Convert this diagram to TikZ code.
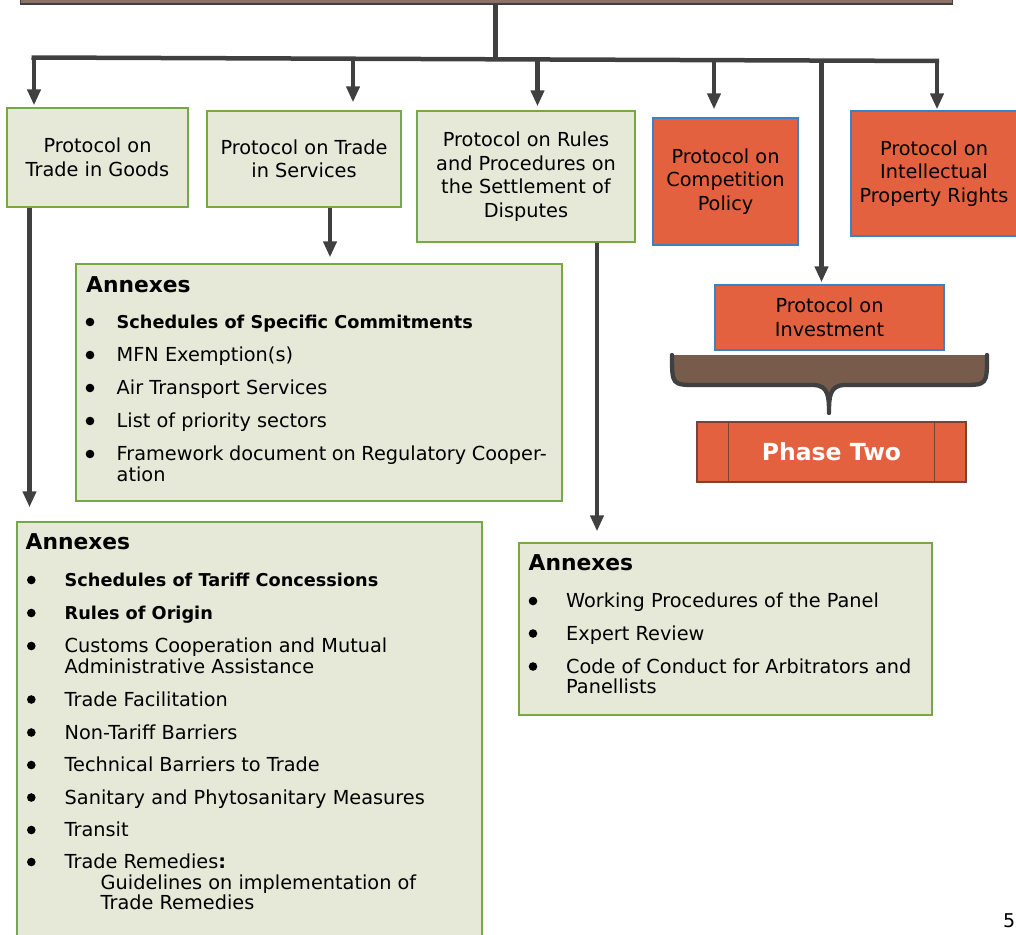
\documentclass[tikz,border=0pt]{standalone}
\usepackage{fontspec}
\setmainfont{DejaVu Sans}
\usetikzlibrary{arrows.meta}
\definecolor{gfill}{HTML}{E6E9D7}
\definecolor{gline}{HTML}{77A846}
\definecolor{ofill}{HTML}{E3613E}
\definecolor{oline}{HTML}{3B82C4}
\definecolor{arrc}{HTML}{404040}
\definecolor{brownf}{HTML}{775B4B}
\definecolor{topf}{HTML}{8C7264}
\definecolor{pline}{HTML}{7A4430}
\newcommand\mlines[1]{\parbox[t]{430pt}{\raggedright #1}}
\begin{document}
\begin{tikzpicture}[x=1pt,y=-1pt,
 gbox/.style={draw=gline,line width=1.3pt,fill=gfill,inner sep=0pt},
 obox/.style={draw=oline,line width=1.3pt,fill=ofill,inner sep=0pt},
 lbl/.style={font=\fontsize{19.3}{23.5}\selectfont,align=center},
 arr/.style={draw=arrc,line width=4.3pt,-{Triangle[length=16pt,width=13pt]}},
 ln/.style={draw=arrc,line width=4.5pt},
 head/.style={anchor=base west,inner sep=0pt,font=\bfseries\fontsize{21.8}{24}\selectfont},
 item/.style={anchor=base west,inner sep=0pt,font=\fontsize{19.3}{20.5}\selectfont},
 bitem/.style={anchor=base west,inner sep=0pt,font=\bfseries\fontsize{17.7}{20.5}\selectfont},
 dot/.style={fill=black},
]
\useasboundingbox (0,0) rectangle (1016,934);

% top bar
\node[draw=arrc,fill=topf,line width=1.5pt,minimum width=932pt,minimum height=20pt,inner sep=0pt] (top) at (486.5,-6) {};

% protocol boxes
\node[gbox,lbl,minimum width=181pt,minimum height=99pt] (goods) at (97.5,157.5) {Protocol on\\Trade in Goods};
\node[gbox,lbl,minimum width=194pt,minimum height=96pt] (serv) at (304,159) {Protocol on Trade\\in Services};
\node[gbox,lbl,minimum width=218pt,minimum height=131pt] (disp) at (526,176.5) {Protocol on Rules\\and Procedures on\\the Settlement of\\Disputes};
\node[obox,lbl,minimum width=145pt,minimum height=127pt] (comp) at (725.5,181.5) {Protocol on\\Competition\\Policy};
\node[obox,lbl,minimum width=166pt,minimum height=125pt] (ipr) at (934,173.5) {Protocol on\\Intellectual\\Property Rights};
\node[obox,lbl,minimum width=229pt,minimum height=65pt] (inv) at (829.5,317.5) {Protocol on\\Investment};

% phase two
\node[draw=pline,line width=1.2pt,fill=ofill,inner sep=0pt,minimum width=269pt,minimum height=60pt,text=white,font=\bfseries\fontsize{23.5}{26}\selectfont] (phase) at (831.5,452) {Phase Two};
\draw[pline,line width=1.2pt] ([xshift=32pt]phase.north west) -- ([xshift=32pt]phase.south west);
\draw[pline,line width=1.2pt] ([xshift=-32pt]phase.north east) -- ([xshift=-32pt]phase.south east);

% brace
\fill[brownf] (672,355) -- (987,355) .. controls (987,385) .. (962,385) -- (845,385) .. controls (829,385) and (829,398) .. (829,413) .. controls (829,398) and (829,385) .. (813,385) -- (697,385) .. controls (672,385) .. (672,355) -- cycle;
\draw[arrc,line width=4.3pt,line cap=round,line join=round] (672,355) .. controls (672,385) .. (697,385) -- (813,385) .. controls (829,385) and (829,398) .. (829,413) .. controls (829,398) and (829,385) .. (845,385) -- (962,385) .. controls (987,385) .. (987,355);

% annex boxes
\node[gbox,minimum width=486pt,minimum height=237pt] (sa) at (319,382.5) {};
\node[gbox,minimum width=465pt,minimum height=423pt] (ga) at (249.5,733.5) {};
\node[gbox,minimum width=413pt,minimum height=172pt] (da) at (725.5,629) {};

% connectors
\coordinate (j) at (495.5,58);
\draw[ln] (top.south -| j) -- (j);
\coordinate (bl) at (31.5,57.5);
\coordinate (br) at (939.2,61);
\draw[ln] (bl) -- (br);
\coordinate (a1) at (34,56);
\coordinate (a2) at (353,57);
\coordinate (a3) at (537.5,58);
\coordinate (a4) at (714,58.5);
\coordinate (a5) at (821.5,59);
\coordinate (a6) at (937,59);
\draw[arr,shorten >=2pt] (a1) -- (a1 |- goods.north);
\draw[arr,shorten >=8pt] (a2) -- (a2 |- serv.north);
\draw[arr,shorten >=4pt] (a3) -- (a3 |- disp.north);
\draw[arr,shorten >=8pt] (a4) -- (a4 |- comp.north);
\draw[arr,shorten >=1pt] (a6) -- (a6 |- ipr.north);
\draw[arr,shorten >=2pt] (a5) -- (a5 |- inv.north);
\coordinate (g0) at (29.5,0);
\coordinate (s0) at (330,0);
\coordinate (d0) at (597,0);
\draw[arr,shorten >=14pt] (goods.south -| g0) -- (ga.north -| g0);
\draw[arr,shorten >=6pt] (serv.south -| s0) -- (sa.north -| s0);
\draw[arr,shorten >=11pt] (disp.south -| d0) -- (da.north -| d0);

% services annexes
\node[head] (sah) at (86,292) {Annexes};
\node[bitem] (s1) at (116.5,328.5) {Schedules of Specific Commitments};
\node[item] (s2) at (116.5,361.5) {MFN Exemption(s)};
\node[item] (s3) at (116.5,394.5) {Air Transport Services};
\node[item] (s4) at (116.5,427.5) {List of priority sectors};
\node[item] (s5) at (116.5,460.5) {\mlines{Framework document on Regulatory Cooper-\\ation}};
\foreach \y in {328.5,361.5,394.5,427.5,460.5} \fill[dot] (90,\y-6.5) circle (4.3pt);

% goods annexes
\node[head] (gah) at (25.5,549.5) {Annexes};
\node[bitem] (g1) at (64.5,586.5) {Schedules of Tariff Concessions};
\node[bitem] (g2) at (64.5,619.5) {Rules of Origin};
\node[item] (g3) at (64.5,652.5) {\mlines{Customs Cooperation and Mutual\\Administrative Assistance}};
\node[item] (g4) at (64.5,706) {Trade Facilitation};
\node[item] (g5) at (64.5,739) {Non-Tariff Barriers};
\node[item] (g6) at (64.5,771.5) {Technical Barriers to Trade};
\node[item] (g7) at (64.5,804) {Sanitary and Phytosanitary Measures};
\node[item] (g8) at (64.5,836.5) {Transit};
\node[item] (g9) at (64.5,868.5) {\mlines{Trade Remedies\textbf{:}\\\hspace*{36pt}Guidelines on implementation of\\\hspace*{36pt}Trade Remedies}};
\foreach \y in {586.5,619.5,652.5,706,739,771.5,804,836.5,868.5} \fill[dot] (31.3,\y-6.5) circle (4.3pt);

% disputes annexes
\node[head] (dah) at (528.5,570) {Annexes};
\node[item] (d1) at (566,607.5) {Working Procedures of the Panel};
\node[item] (d2) at (566,640) {Expert Review};
\node[item] (d3) at (566,673) {\mlines{Code of Conduct for Arbitrators and\\Panellists}};
\foreach \y in {607.5,640,673} \fill[dot] (533,\y-6.5) circle (4.3pt);

% page number
\node[anchor=base west,inner sep=0pt,font=\fontsize{19}{19}\selectfont] (pg) at (1003,927) {5};
\end{tikzpicture}
\end{document}
